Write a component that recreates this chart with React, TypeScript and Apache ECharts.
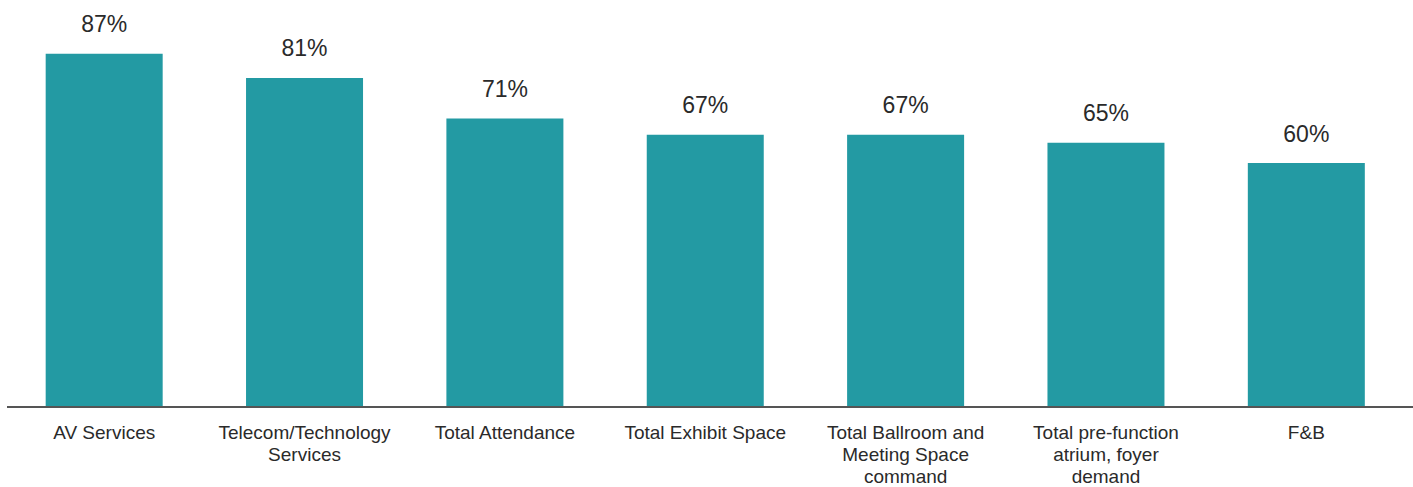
import React, { useEffect, useRef } from "react";
import * as echarts from "echarts";

const categories: string[] = [
  "AV Services",
  "Telecom/Technology\nServices",
  "Total Attendance",
  "Total Exhibit Space",
  "Total Ballroom and\nMeeting Space\ncommand",
  "Total pre-function\natrium, foyer\ndemand",
  "F&B",
];
const values: number[] = [87, 81, 71, 67, 67, 65, 60];

const BAR_COLOR = "#239aa3";
const TEXT_COLOR = "#2a2a2a";
const FONT = "'Liberation Sans', Arial, Helvetica, sans-serif";

export default function App() {
  const ref = useRef<HTMLDivElement>(null);
  useEffect(() => {
    document.body.style.margin = "0";
    if (!ref.current) return;
    const chart = echarts.init(ref.current, undefined, { renderer: "svg" });
    chart.setOption({
      animation: false,
      grid: { left: 4, top: 1, width: 1402.5, height: 406, containLabel: false },
      xAxis: {
        type: "category",
        data: categories,
        axisLine: { show: false },
        axisTick: { show: false },
        axisLabel: {
          interval: 0,
          margin: 15,
          color: TEXT_COLOR,
          fontFamily: FONT,
          fontSize: 19,
          lineHeight: 22,
        },
      },
      yAxis: {
        type: "value",
        min: 0,
        max: 100,
        show: false,
        splitLine: { show: false },
      },
      graphic: [
        {
          type: "line",
          shape: { x1: 7, y1: 407, x2: 1413, y2: 407 },
          style: { stroke: "#555555", lineWidth: 2 },
          z: 10,
        },
      ],
      series: [
        {
          type: "bar",
          data: values,
          barWidth: 117,
          itemStyle: { color: BAR_COLOR },
          label: {
            show: true,
            position: "top",
            distance: 18,
            formatter: "{c}%",
            color: TEXT_COLOR,
            fontFamily: FONT,
            fontSize: 23,
          },
        },
      ],
    });
    return () => chart.dispose();
  }, []);
  return <div ref={ref} style={{ width: 1413, height: 487 }} />;
}
